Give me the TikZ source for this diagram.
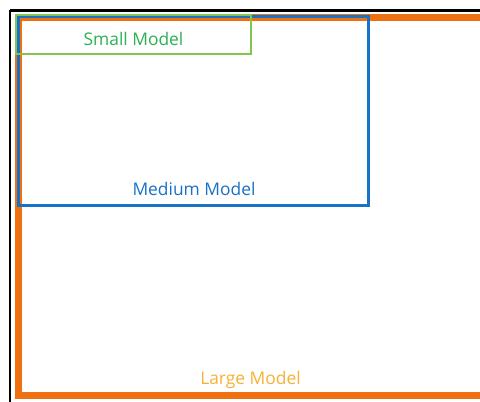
\documentclass[tikz,border=0pt]{standalone}
\usepackage{fontspec}
\setmainfont{Open Sans}
\definecolor{largeC}{RGB}{238,112,16}
\definecolor{mediumC}{RGB}{24,114,198}
\definecolor{smallC}{RGB}{132,196,80}
\definecolor{smallT}{RGB}{44,176,84}
\definecolor{largeT}{RGB}{246,178,52}
\begin{document}
\begin{tikzpicture}[x=1pt,y=-1pt,
  lbl/.style={inner sep=0pt, font=\fontsize{17.4}{20}\selectfont}]
\useasboundingbox (0,0) rectangle (480,402);
\fill[white] (0,0) rectangle (480,402);
% frame lines
\draw[black, line width=2.2] (10,10.5) -- (482,10.5);
\draw[black, line width=2.2] (10,10) -- (10,404);
% large model region
\draw[largeC, line width=6.5] (18.5,17.5) rectangle (492,395.5);
% medium model region
\draw[mediumC, line width=3] (18.5,16.5) rectangle (368.5,205);
% small model region
\draw[smallC, line width=1.6] (16,15) rectangle (251,54);
% labels
\node[lbl, text=smallT] (small) at (133.5,39) {Small Model};
\node[lbl, text=mediumC] (medium) at (194,189) {Medium Model};
\node[lbl, text=largeT] (large) at (250.5,380) {Large Model};
\end{tikzpicture}
\end{document}
